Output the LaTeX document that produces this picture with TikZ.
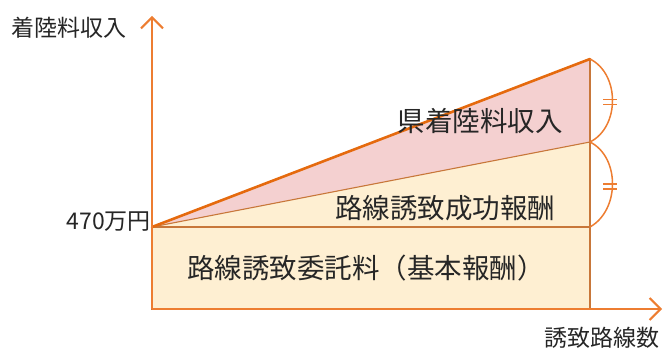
\documentclass[tikz,border=0pt]{standalone}
\usepackage{fontspec}
\setmainfont{Noto Sans CJK JP}
\usetikzlibrary{arrows.meta}
\definecolor{axisor}{HTML}{ED7D31}
\definecolor{lineor}{HTML}{C8773A}
\definecolor{topor}{HTML}{E56A0E}
\definecolor{pinkf}{HTML}{F4D0D0}
\definecolor{yelf}{HTML}{FEEFD2}
\definecolor{txt}{HTML}{262626}
\tikzset{
  axis/.style={draw=axisor,line width=2pt,-{Straight Barb[length=11pt,width=22pt,line width=2pt]}},
  bigtxt/.style={text=txt,font=\fontsize{27.5}{27.5}\selectfont,inner sep=0pt},
  smalltxt/.style={text=txt,font=\fontsize{23}{23}\selectfont,inner sep=0pt},
  bound/.style={draw=lineor,line width=1.1pt},
  brace/.style={draw=axisor,line width=1.5pt},
}
\begin{document}
\begin{tikzpicture}[x=1pt,y=-1pt]
\useasboundingbox (0,0) rectangle (665,352);
\coordinate (O) at (152,227);
\coordinate (B) at (152,309);
\coordinate (R0) at (590,309);
\coordinate (R1) at (590,227);
\coordinate (R2) at (590,142);
\coordinate (R3) at (590,59);
\coordinate (Ytop) at (152,16);
\coordinate (Xend) at (662,309);
% fills
\fill[yelf] (B) rectangle (R1);
\fill[yelf] (O) -- (R2) -- (R1) -- cycle;
\fill[pinkf] (O) -- (R3) -- (R2) -- cycle;
% boundaries
\draw[bound] (B) rectangle (R1);
\draw[bound] (O) -- (R2);
\draw[bound] (R1) -- (R3);
\draw[draw=topor,line width=2.6pt,line cap=round] (O) -- (R3);
% axes
\draw[axis] (B) -- (Ytop);
\draw[axis] (B) -- (Xend);
% braces
\draw[brace] (R3) .. controls (620,74) and (620,127) .. (R2);
\draw[brace] (R2) .. controls (620,157) and (620,210) .. (R1);
\draw[brace] (603,99.5) -- (617,99.5) (603,104.5) -- (617,104.5);
\draw[brace] (603,184) -- (617,184) (603,189) -- (617,189);
% labels
\node[smalltxt,anchor=west] (ylab) at (11,28) {着陸料収入};
\node[smalltxt,anchor=west] (xlab) at (544,338) {誘致路線数};
\node[smalltxt,anchor=east] (v470) at (151,222) {470万円};
\node[bigtxt] (t1) at (480,121) {県着陸料収入};
\node[bigtxt] (t2) at (445,208) {路線誘致成功報酬};
\node[bigtxt] (t3) at (366,268) {路線誘致委託料（基本報酬）};
\end{tikzpicture}
\end{document}
